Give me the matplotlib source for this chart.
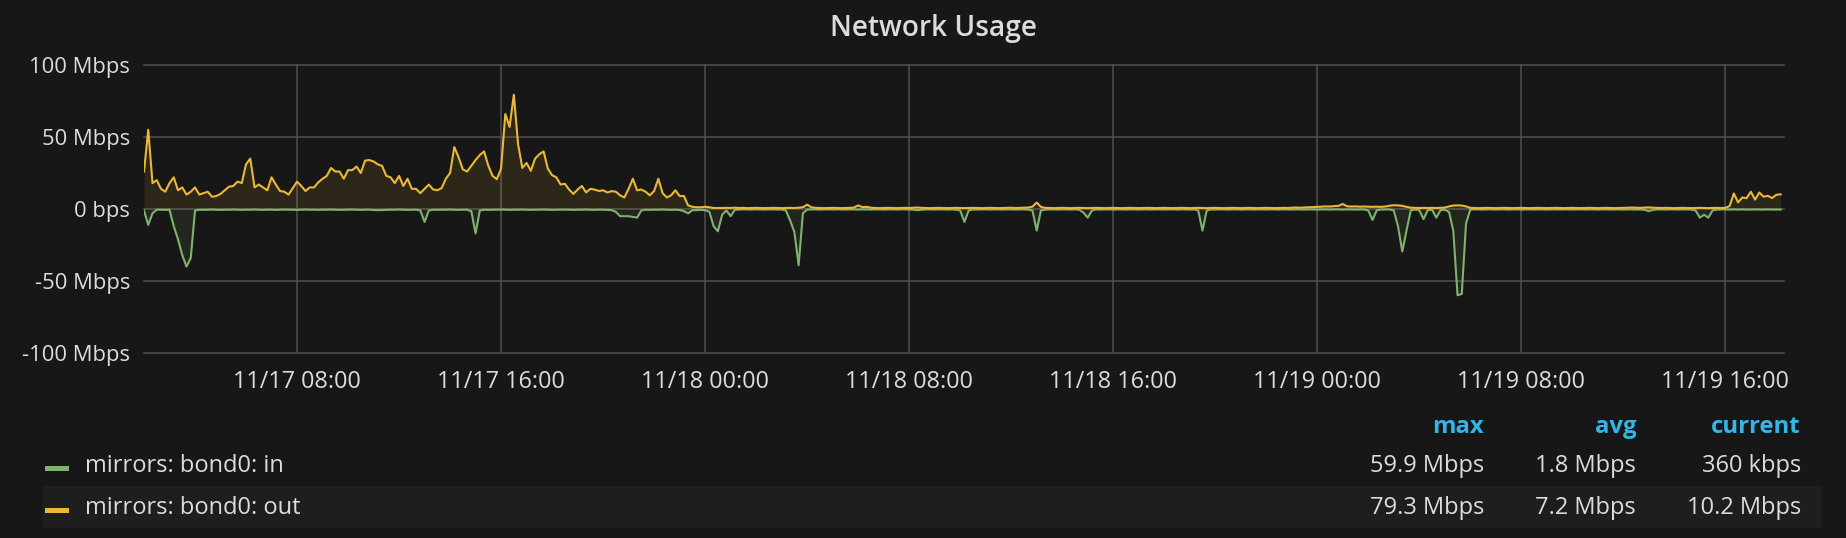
import matplotlib
matplotlib.use("Agg")
import matplotlib.pyplot as plt
import matplotlib.dates as mdates
from matplotlib.patches import Rectangle
from matplotlib.ticker import FuncFormatter, FixedLocator
import pandas as pd

# ---------------- data (Mbps, 10-minute samples from 11/17 02:00) ----------------
start_time = "2017-11-17 02:00"
step = "10min"

out_day1 = [
    26, 55, 18, 20, 14, 12, 18, 22, 13, 15,
    10, 12, 15, 10, 11, 12, 8.5, 9, 10.5, 13,
    15.5, 16, 19, 18, 31, 35, 15, 17, 15, 13,
    22, 17, 12.5, 12, 10, 14.5, 19, 16, 12.5, 15,
    15, 18.5, 21, 23, 28.5, 26, 26, 21, 27, 27,
    29.5, 25, 33.6, 34, 33, 31, 30, 23, 22, 18,
    23, 16, 21, 14, 14, 11, 14, 17, 13.6, 13,
    14.5, 21, 25, 43, 36, 27.5, 26, 30, 34, 37.5,
    40, 30, 23, 20.7, 28, 66, 57, 79.3, 45, 28.5,
    32, 26.5, 35, 38, 40, 28, 23.5, 22, 17, 17.5,
    13.5, 10.5, 13.5, 16, 11.5, 14, 13.5, 12.5, 13, 11.5,
    12.4, 12, 9.5, 8, 14, 21, 13, 13.5, 12, 9.5,
    12.5, 21, 11, 8, 9.5, 13, 9, 9, 2.5, 1.5,
    1.2, 1.2, 1.5, 1.2, 0.7, 0.7, 0.7,
]
out_rest = [
    0.8, 0.7, 0.9, 0.7, 0.8, 0.6, 0.7, 0.8, 0.7, 0.6,
    0.7, 0.8, 0.7, 0.6, 0.7, 0.8, 0.7, 0.9, 1.2, 3.0,
    1.2, 0.8, 0.7, 0.6, 0.7, 0.8, 0.7, 0.6, 0.7, 0.8,
    1.0, 2.5, 1.3, 1.5, 0.9, 0.7, 0.6, 0.7, 0.8, 0.7,
    0.6, 0.7, 0.8, 0.7, 0.9, 1.0, 0.8, 0.7, 0.6, 0.7,
    0.8, 0.7, 0.6, 0.7, 0.8, 0.7, 0.6, 0.7, 0.8, 0.7,
    0.6, 0.7, 0.8, 0.7, 0.6, 0.7, 0.8, 0.9, 0.7, 0.8,
    0.9, 1.0, 1.6, 4.5, 1.4, 0.8, 0.7, 0.6, 0.7, 0.8,
    0.7, 0.6, 0.7, 0.8, 0.7, 0.6, 0.7, 0.8, 0.7, 0.6,
    0.7, 0.8, 0.7, 0.6, 0.7, 0.8, 0.7, 0.6, 0.7, 0.8,
    0.7, 0.6, 0.7, 0.8, 0.7, 0.6, 0.7, 0.8, 0.7, 0.6,
    0.7, 0.8, 0.7, 0.6, 0.7, 0.8, 0.7, 0.6, 0.7, 0.8,
    0.7, 0.6, 0.7, 0.8, 0.7, 0.6, 0.7, 0.8, 0.7, 0.6,
    0.7, 0.8, 0.7, 0.9, 1.0, 0.9, 1.1, 1.2, 1.3, 1.5,
    1.6, 1.8, 1.7, 2.0, 2.2, 3.5, 1.9, 1.7, 1.8, 1.6,
    1.7, 1.6, 1.5, 1.6, 1.5, 1.7, 2.3, 2.6, 2.5, 2.2,
    1.5, 0.9, 0.8, 0.7, 0.8, 0.7, 0.8, 0.7, 0.8, 1.0,
    1.8, 2.4, 2.5, 2.4, 1.8, 0.8, 0.7, 0.6, 0.7, 0.8,
    0.7, 0.6, 0.7, 0.8, 0.7, 0.6, 0.7, 0.8, 0.7, 0.6,
    0.7, 0.8, 0.7, 0.6, 0.7, 0.8, 0.7, 0.6, 0.7, 0.8,
    0.7, 0.6, 0.7, 0.8, 0.7, 0.6, 0.7, 0.8, 0.7, 0.6,
    0.7, 0.8, 0.9, 1.0, 0.9, 0.8, 1.0, 1.1, 0.9, 0.8,
    0.7, 0.8, 0.7, 0.6, 0.7, 0.8, 0.7, 0.6, 0.7, 0.8,
    0.7, 0.6, 0.7, 0.8, 0.7, 0.8,
    2.0, 10.8, 4.6, 8.0, 7.5, 12.0, 6.5, 11.5, 8.5, 9.2, 7.6, 9.9, 10.2,
]

# inbound traffic is drawn below zero (negative-Y transform)
in_day1 = [
    -1, -11, -3, -0.5, -0.5, -0.6, -0.5, -12, -21, -32,
    -40, -34, -1, -0.5, -0.6, -0.5, -0.4, -0.5, -0.6, -0.5,
    -0.5, -0.4, -0.5, -0.6, -0.5, -0.5, -0.4, -0.5, -0.6, -0.5,
    -0.5, -0.6, -0.5, -0.4, -0.5, -0.5, -0.6, -0.5, -0.4, -0.5,
    -0.5, -0.6, -0.5, -0.5, -0.4, -0.5, -0.6, -0.5, -0.5, -0.4,
    -0.5, -0.6, -0.5, -0.5, -0.7, -0.8, -0.7, -0.6, -0.5, -0.5,
    -0.4, -0.5, -0.6, -0.5, -0.5, -1.0, -9.0, -1.0, -0.5, -0.6,
    -0.5, -0.5, -0.4, -0.5, -0.6, -0.5, -0.5, -1.5, -17, -1.0,
    -0.5, -0.6, -0.5, -0.5, -0.4, -0.5, -0.6, -0.5, -0.5, -0.4,
    -0.5, -0.6, -0.5, -0.5, -0.4, -0.5, -0.6, -0.5, -0.5, -0.4,
    -0.5, -0.6, -0.5, -0.5, -0.4, -0.5, -0.6, -0.5, -0.5, -0.6,
    -0.8, -2.0, -5.0, -5.0, -5.0, -5.5, -6.0, -1.0, -0.5, -0.6,
    -0.5, -0.5, -0.4, -0.5, -0.6, -0.5, -0.7, -1.5, -3.0, -0.8,
    -0.8, -0.6, -0.8, -2.0, -12, -15.5, -4,
]
in_rest = [
    -1.0, -5.0, -0.5, -0.4, -0.3, -0.3, -0.4, -0.3, -0.3, -0.4,
    -0.3, -0.3, -0.4, -0.3, -1.0, -8.0, -16, -39, -3.0, -0.4,
    -0.3, -0.3, -0.4, -0.3, -0.3, -0.4, -0.3, -0.3, -0.4, -0.3,
    -0.3, -0.4, -0.3, -0.3, -0.4, -0.3, -0.3, -0.4, -0.3, -0.3,
    -0.4, -0.3, -0.3, -0.4, -0.5, -0.8, -0.5, -0.3, -0.3, -0.4,
    -0.3, -0.3, -0.4, -0.3, -0.5, -1.0, -9.0, -1.0, -0.3, -0.4,
    -0.3, -0.3, -0.4, -0.3, -0.3, -0.4, -0.3, -0.3, -0.4, -0.3,
    -0.3, -0.4, -1.0, -15, -1.0, -0.4, -0.3, -0.3, -0.4, -0.3,
    -0.3, -0.4, -0.3, -0.5, -2.5, -6.0, -1.0, -0.3, -0.4, -0.3,
    -0.3, -0.4, -0.3, -0.3, -0.4, -0.3, -0.3, -0.4, -0.3, -0.3,
    -0.4, -0.3, -0.3, -0.4, -0.3, -0.3, -0.4, -0.3, -0.3, -0.4,
    -0.3, -1.0, -15, -1.0, -0.3, -0.4, -0.3, -0.3, -0.4, -0.3,
    -0.3, -0.4, -0.3, -0.3, -0.4, -0.3, -0.3, -0.4, -0.3, -0.3,
    -0.4, -0.3, -0.3, -0.4, -0.3, -0.3, -0.4, -0.3, -0.3, -0.4,
    -0.3, -0.3, -0.4, -0.3, -0.3, -0.4, -0.3, -0.3, -0.4, -0.3,
    -0.3, -1.0, -7.6, -0.8, -0.4, -0.3, -0.3, -1.0, -12, -29.5,
    -15, -1.0, -0.4, -0.8, -7.0, -0.8, -0.5, -6.0, -0.8, -0.5,
    -2.0, -15, -59.9, -59, -10, -0.4, -0.3, -0.3, -0.4, -0.3,
    -0.3, -0.4, -0.3, -0.3, -0.4, -0.3, -0.3, -0.4, -0.3, -0.3,
    -0.4, -0.3, -0.3, -0.4, -0.3, -0.3, -0.4, -0.3, -0.3, -0.4,
    -0.3, -0.3, -0.4, -0.3, -0.3, -0.4, -0.3, -0.3, -0.4, -0.3,
    -0.3, -0.4, -0.3, -0.3, -0.4, -0.3, -0.6, -1.5, -0.6, -0.3,
    -0.3, -0.4, -0.3, -0.3, -0.4, -0.3, -0.3, -0.4, -1.0, -6.0,
    -4.0, -6.0, -1.0, -0.4, -0.3, -0.3,
    -0.4, -0.3, -0.4, -0.3, -0.4, -0.4, -0.3, -0.4, -0.4, -0.3, -0.4, -0.4, -0.36,
]

series_names = ["mirrors: bond0: in", "mirrors: bond0: out"]
stat_headers = ["max", "avg", "current"]
stat_in = ["59.9 Mbps", "1.8 Mbps", "360 kbps"]
stat_out = ["79.3 Mbps", "7.2 Mbps", "10.2 Mbps"]
y_ticks = [-100, -50, 0, 50, 100]

# ---------------- styling ----------------
BG = "#181717"
GRID = "#4b4b4b"
TXT = "#dcdcdc"
GREEN = "#7eb26d"
YELLOW = "#eab839"
BLUE = "#33b5e5"
FONT = "Open Sans"

plt.rcParams["font.family"] = [FONT, "DejaVu Sans"]

out_mbps = out_day1 + out_rest
in_mbps = in_day1 + in_rest
times = pd.date_range(start_time, periods=len(out_mbps), freq=step)

W, H = 1846, 538
fig = plt.figure(figsize=(W / 100, H / 100), dpi=100, facecolor=BG)

L, R, T, B = 144, 1784, 65, 353
ax = fig.add_axes([L / W, 1 - B / H, (R - L) / W, (B - T) / H])
ax.set_facecolor(BG)

ax.fill_between(times, in_mbps, 0, color=GREEN, alpha=0.1, linewidth=0, zorder=2)
ax.plot(times, in_mbps, color=GREEN, linewidth=1.5, zorder=3)
ax.fill_between(times, out_mbps, 0, color=YELLOW, alpha=0.1, linewidth=0, zorder=4)
ax.plot(times, out_mbps, color=YELLOW, linewidth=1.5, zorder=5)

t0 = pd.Timestamp(start_time)
ax.set_xlim(t0, t0 + pd.Timedelta(hours=64.3))
ax.set_ylim(-100, 100)

ax.yaxis.set_major_locator(FixedLocator(y_ticks))
ax.yaxis.set_major_formatter(FuncFormatter(lambda v, p: "0 bps" if v == 0 else f"{v:g} Mbps"))
ax.xaxis.set_major_locator(mdates.HourLocator(byhour=[0, 8, 16]))
ax.xaxis.set_major_formatter(mdates.DateFormatter("%m/%d %H:%M"))

ax.tick_params(axis="both", length=0, colors=TXT)
ax.tick_params(axis="y", pad=10, labelsize=15.8)
ax.tick_params(axis="x", pad=12, labelsize=16.8)
ax.grid(True, color=GRID, linewidth=1.2, zorder=1)
ax.set_axisbelow(True)
for gl in ax.get_ygridlines() + ax.get_xgridlines():
    gl.set_clip_on(False)
for s in ax.spines.values():
    s.set_visible(False)

# title
fig.text(934 / W, 1 - 36 / H, "Network Usage", ha="center", va="baseline",
         color=TXT, fontsize=20.2, fontweight="semibold")

# legend table
fig.patches.append(Rectangle((43 / W, 1 - 528 / H), (1822 - 43) / W, 42 / H,
                             transform=fig.transFigure, facecolor="#1f1e1e",
                             edgecolor="none", zorder=0))
col_right = [1484, 1636, 1801]
for x, h in zip(col_right, stat_headers):
    fig.text(x / W, 1 - 427 / H, h, ha="right", va="center", color=BLUE,
             fontsize=17.2, fontweight="bold")

rows_y = [466, 508]
colors = [GREEN, YELLOW]
stats = [stat_in, stat_out]
for y, name, c, st in zip(rows_y, series_names, colors, stats):
    fig.patches.append(Rectangle((45 / W, 1 - (y + 5) / H), 24 / W, 5 / H,
                                 transform=fig.transFigure, facecolor=c,
                                 edgecolor="none", zorder=2))
    fig.text(85 / W, 1 - y / H, name, ha="left", va="center", color=TXT, fontsize=17)
    for x, s in zip(col_right, st):
        fig.text(x / W, 1 - y / H, s, ha="right", va="center", color=TXT, fontsize=17)

fig.savefig("out.png", dpi=100, facecolor=BG)
